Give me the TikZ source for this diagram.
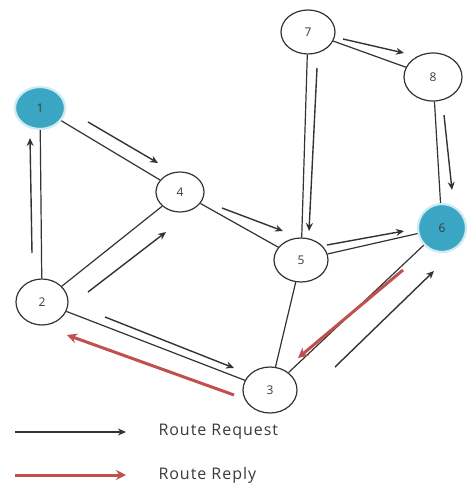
\documentclass[tikz,border=0pt]{standalone}
\usepackage{fontspec}
\setmainfont{Open Sans}
\newfontfamily\legendfont[LetterSpace=6]{Open Sans}
\usetikzlibrary{shapes.geometric,arrows.meta}
\definecolor{edgegray}{HTML}{333333}
\definecolor{teal}{HTML}{3AA6C4}
\definecolor{ringblue}{HTML}{CFEAF3}
\definecolor{replyred}{HTML}{C0504D}
\definecolor{txtgray}{HTML}{3A3A3A}
\tikzset{
  netnode/.style={ellipse, draw=edgegray, line width=1.2pt, fill=white,
    inner sep=0pt, font=\fontsize{12}{12}\selectfont, text=txtgray},
  srcnode/.style={netnode, draw=ringblue, line width=2.2pt, fill=teal},
  link/.style={draw=edgegray, line width=1.2pt},
  reqarrow/.style={draw=edgegray, line width=1.4pt, -{Stealth[length=8pt,width=7pt]}},
  reparrow/.style={draw=replyred, line width=3pt, -{Stealth[length=10pt,width=10pt]}},
  legendtext/.style={anchor=west, text=txtgray, font=\legendfont\fontsize{16}{16}\selectfont},
}
\begin{document}
\begin{tikzpicture}[x=1pt,y=-1pt]
\useasboundingbox (0,0) rectangle (469,486);
% network nodes
\node[srcnode, minimum width=50pt, minimum height=42pt] (n1) at (40,108) {1};
\node[netnode, minimum width=52pt, minimum height=46pt] (n2) at (42,302) {2};
\node[netnode, minimum width=48pt, minimum height=40pt] (n4) at (180,192) {4};
\node[netnode, minimum width=54pt, minimum height=46pt] (n3) at (270,390) {3};
\node[netnode, minimum width=54pt, minimum height=44pt] (n5) at (301,260) {5};
\node[srcnode, minimum width=48pt, minimum height=48pt] (n6) at (442,228) {6};
\node[netnode, minimum width=54pt, minimum height=44pt] (n7) at (308,32) {7};
\node[netnode, minimum width=58pt, minimum height=48pt] (n8) at (433,77) {8};
% links between nodes
\draw[link] (n1) -- (n2);
\draw[link] (n1) -- (n4);
\draw[link] (n2) -- (n4);
\draw[link] (n2) -- (n3);
\draw[link] (n4) -- (n5);
\draw[link] (n7) -- (n5);
\draw[link] (n7) -- (n8);
\draw[link] (n8) -- (n6);
\draw[link] (n5) -- (n6);
\draw[link] (n5) -- (n3);
\draw[link] (n3) -- (n6);
% route request arrows
\coordinate (a21s) at (32,253);  \coordinate (a21e) at (30,138);
\coordinate (a14s) at (88,122);  \coordinate (a14e) at (158,163);
\coordinate (a24s) at (88,292);  \coordinate (a24e) at (166,232);
\coordinate (a23s) at (105,317); \coordinate (a23e) at (234,368);
\coordinate (a45s) at (222,208); \coordinate (a45e) at (283,231);
\coordinate (a75s) at (317,68);  \coordinate (a75e) at (309,231);
\coordinate (a78s) at (343,39);  \coordinate (a78e) at (404,53);
\coordinate (a86s) at (444,115); \coordinate (a86e) at (452,190);
\coordinate (a56s) at (327,245); \coordinate (a56e) at (404,231);
\coordinate (a36s) at (335,367); \coordinate (a36e) at (434,271);
\draw[reqarrow] (a21s) -- (a21e);
\draw[reqarrow] (a14s) -- (a14e);
\draw[reqarrow] (a24s) -- (a24e);
\draw[reqarrow] (a23s) -- (a23e);
\draw[reqarrow] (a45s) -- (a45e);
\draw[reqarrow] (a75s) -- (a75e);
\draw[reqarrow] (a78s) -- (a78e);
\draw[reqarrow] (a86s) -- (a86e);
\draw[reqarrow] (a56s) -- (a56e);
\draw[reqarrow] (a36s) -- (a36e);
% route reply arrows
\coordinate (r63s) at (403,270); \coordinate (r63e) at (298,358);
\coordinate (r32s) at (234,395); \coordinate (r32e) at (67,335);
\draw[reparrow] (r63s) -- (r63e);
\draw[reparrow] (r32s) -- (r32e);
% legend
\coordinate (lq1) at (15,432); \coordinate (lq2) at (126,432);
\coordinate (lp1) at (15,475); \coordinate (lp2) at (126,475);
\draw[reqarrow] (lq1) -- (lq2);
\draw[reparrow] (lp1) -- (lp2);
\node[legendtext] (lreq) at (155,432) {Route Request};
\node[legendtext] (lrep) at (155,475) {Route Reply};
\end{tikzpicture}
\end{document}
